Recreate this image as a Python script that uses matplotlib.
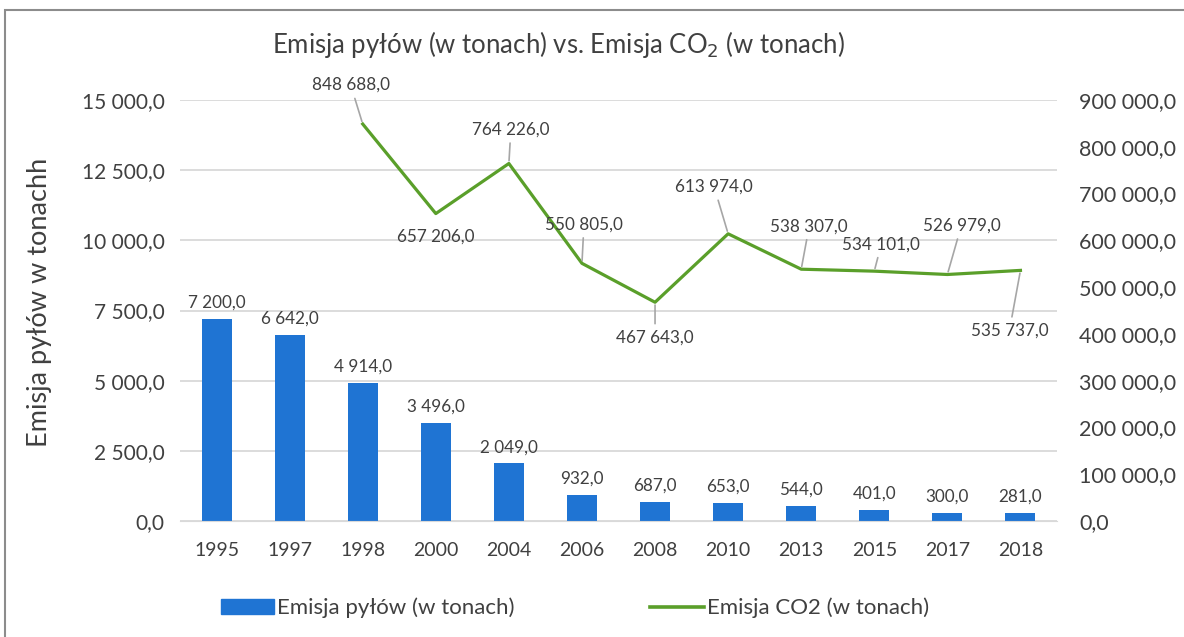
import matplotlib.pyplot as plt
from matplotlib.patches import Rectangle
from matplotlib.lines import Line2D
from matplotlib.ticker import FuncFormatter

plt.rcParams['font.family'] = ['Lato', 'DejaVu Sans']

years = ["1995", "1997", "1998", "2000", "2004", "2006", "2008",
         "2010", "2013", "2015", "2017", "2018"]
dust = [7200, 6642, 4914, 3496, 2049, 932, 687, 653, 544, 401, 300, 281]
co2_years = ["1998", "2000", "2004", "2006", "2008", "2010",
             "2013", "2015", "2017", "2018"]
co2 = [848688, 657206, 764226, 550805, 467643, 613974,
       538307, 534101, 526979, 535737]

# label offsets in pixels (dx, dy) for line labels
co2_offsets = [(-12, 39), (0, -23), (2, 34), (2, 39), (0, -35),
               (-14, 47), (8, 43), (7, 27), (14, 49), (-11, -60)]
co2_leader = [True, False, True, True, True, True, True, True, True, True]

TEXT = "#404040"
BAR = "#1f74d3"
LINE = "#5a9f2a"
GRID = "#d9d9d9"


def pl(v, pos=None):
    s = f"{v:,.1f}".replace(",", " ").replace(".", ",")
    return s


def main():
    fig = plt.figure(figsize=(11.84, 6.37), dpi=100)
    fig.patch.set_facecolor("white")
    fig.patches.append(Rectangle((5 / 1184, -0.02), 1.1, 1 - 10 / 637 + 0.02,
                                 transform=fig.transFigure, fill=False,
                                 edgecolor="#8c8c8c", linewidth=1.5))

    ax = fig.add_axes([180 / 1184, 1 - 521 / 637, 877 / 1184, 421 / 637])
    ax2 = ax.twinx()

    x = list(range(len(years)))
    ax.bar(x, dust, width=0.41, color=BAR, zorder=2)
    for xi, v in zip(x, dust):
        ax.annotate(pl(v), (xi, v), xytext=(0, 8), textcoords="offset pixels",
                    ha="center", va="bottom", fontsize=12.3, color=TEXT)

    ax.set_xlim(-0.5, len(years) - 0.5)
    ax.set_ylim(0, 15000)
    ax.set_yticks(range(0, 15001, 2500))
    ax.yaxis.set_major_formatter(FuncFormatter(pl))
    ax.grid(axis="y", color=GRID, linewidth=1.3, zorder=0)
    ax.set_axisbelow(True)
    ax.set_xticks(x)
    ax.set_xticklabels(years)
    for a in (ax, ax2):
        for s in a.spines.values():
            s.set_visible(False)
        a.tick_params(length=0, colors=TEXT)
    ax.spines["bottom"].set_visible(True)
    ax.spines["bottom"].set_color(GRID)
    ax.tick_params(axis="x", pad=15, labelsize=14)
    ax.tick_params(axis="y", pad=11, labelsize=15)
    ax.set_ylabel("Emisja pyłów w tonachh", fontsize=19.5, color=TEXT, va="center")
    ax.yaxis.set_label_coords(-0.16, 0.52)

    cx = [years.index(y) for y in co2_years]
    ax2.plot(cx, co2, color=LINE, linewidth=2.3, zorder=3)
    ax2.set_ylim(0, 900000)
    ax2.set_yticks(range(0, 900001, 100000))
    ax2.yaxis.set_major_formatter(FuncFormatter(pl))
    ax2.tick_params(axis="y", pad=16, labelsize=15.5)
    for xi, v, off, lead in zip(cx, co2, co2_offsets, co2_leader):
        props = dict(arrowstyle="-", color="#a6a6a6", lw=1.2,
                     shrinkA=2, shrinkB=2) if lead else None
        ax2.annotate(pl(v), (xi, v), xytext=off, textcoords="offset pixels",
                     ha="center", va="center", fontsize=12.3, color=TEXT,
                     arrowprops=props)

    fig.text(558 / 1184, 1 - 45 / 637,
             "Emisja pyłów (w tonach) vs. Emisja CO$_2$ (w tonach)",
             ha="center", va="center", fontsize=18.5, color=TEXT)

    handles = [Rectangle((0, 0), 1, 1, color=BAR),
               Line2D([0], [0], color=LINE, linewidth=2.6)]
    fig.legend(handles, ["Emisja pyłów (w tonach)", "Emisja CO2 (w tonach)"],
               loc="center", bbox_to_anchor=(575 / 1184, 1 - 608 / 637),
               ncol=2, frameon=False, fontsize=16, labelcolor=TEXT,
               handlelength=2.4, handleheight=0.7, columnspacing=6.1,
               handletextpad=0.15)

    fig.savefig("out.png", dpi=100)


if __name__ == "__main__":
    main()
